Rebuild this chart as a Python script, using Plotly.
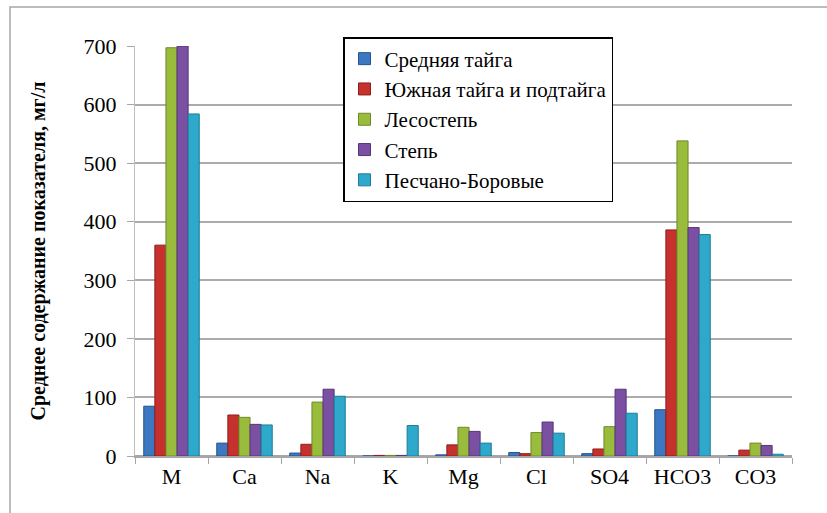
import plotly.graph_objects as go

categories = ["M", "Ca", "Na", "K", "Mg", "Cl", "SO4", "HCO3", "CO3"]

series_names = [
    "Средняя тайга",
    "Южная тайга и подтайга",
    "Лесостепь",
    "Степь",
    "Песчано-Боровые",
]

middle_taiga = [85, 22, 5, 0, 2, 6, 4, 79, 0]
south_taiga = [360, 70, 20, 1, 19, 4, 12, 386, 10]
forest_steppe = [697, 66, 92, 1, 49, 40, 50, 538, 22]
steppe = [700, 54, 114, 1, 42, 58, 114, 390, 18]
sand_pine = [584, 53, 102, 52, 22, 39, 73, 378, 3]

series_values = [middle_taiga, south_taiga, forest_steppe, steppe, sand_pine]
colors = ["#3B78C1", "#C6302D", "#99BC3C", "#7B4FA2", "#2FA9CB"]
edge_colors = ["#25548C", "#8E1F1D", "#6E8A26", "#55357A", "#1D7C97"]

y_ticks = [0, 100, 200, 300, 400, 500, 600, 700]

fig = go.Figure()
for name, vals, c, ec in zip(series_names, series_values, colors, edge_colors):
    fig.add_trace(go.Bar(
        x=categories, y=vals, name=name,
        marker=dict(color=c, line=dict(color=ec, width=1)),
    ))

serif = "Liberation Serif, Times New Roman, serif"

# plot area in pixels: x 135..792, y 46..456
L, R, T, B = 135, 35, 46, 57
PW, PH = 827 - L - R, 513 - T - B

fig.update_layout(
    width=827, height=513,
    margin=dict(l=L, r=R, t=T, b=B),
    paper_bgcolor="white", plot_bgcolor="white",
    barmode="group", bargap=0.24, bargroupgap=0.0,
    font=dict(family=serif, size=20, color="black"),
    showlegend=True,
    legend=dict(
        x=(343 - L) / PW, y=1 + (T - 37) / PH, xanchor="left", yanchor="top",
        bgcolor="white", bordercolor="black", borderwidth=1.5,
        font=dict(family=serif, size=21, color="black"),
        tracegroupgap=1, itemwidth=30,
    ),
    xaxis=dict(
        showgrid=False, showline=True, linecolor="#A6A6A6", linewidth=1.5,
        ticks="outside", tickson="boundaries", ticklen=6, tickcolor="#A6A6A6",
        tickfont=dict(family=serif, size=22, color="black"),
    ),
    yaxis=dict(
        range=[0, 700], tickvals=y_ticks,
        showgrid=True, gridcolor="#ABABAB", gridwidth=2,
        showline=True, linecolor="#BFBFBF", linewidth=1,
        ticks="outside", ticklen=7, tickcolor="#A6A6A6",
        ticklabelstandoff=6,
        tickfont=dict(family=serif, size=22, color="black"),
        zeroline=True, zerolinecolor="#A6A6A6", zerolinewidth=2,
        title=dict(
            text="<b>Среднее содержание показателя, мг/л</b>",
            font=dict(family=serif, size=20, color="black"),
            standoff=32,
        ),
    ),
    shapes=[
        dict(
            type="rect", xref="paper", yref="paper",
            x0=(10 - L) / PW, x1=(840 - L) / PW,
            y0=-(530 - 456) / PH, y1=1 + (T - 7) / PH,
            line=dict(color="#A6A6A6", width=1.5), fillcolor="rgba(0,0,0,0)",
            layer="below",
        )
    ],
)

fig.write_html("out.html")
